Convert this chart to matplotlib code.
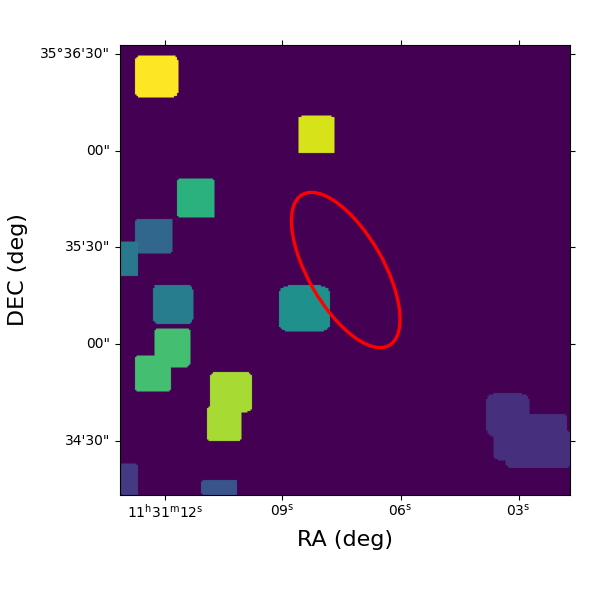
"""Segmentation map with an aperture ellipse, on RA/DEC style axes."""

import matplotlib
matplotlib.use("Agg")
import matplotlib.pyplot as plt
import numpy as np
from matplotlib.patches import Ellipse
from matplotlib.transforms import ScaledTranslation

GRID_SIZE = 300

# segments (pixel edges and label value, 0-100)
seg_x0 = [9.8, 118.6, 37.8, 10.3, 0, 22.3, 105.9, 10.3, 23.3, 60.2, 58.2, 0, 54.5, 244.3, 249.3, 257.3, 275]
seg_x1 = [39, 143.2, 63.4, 35, 11.5, 48.5, 140.1, 33.9, 46.7, 87.7, 80.7, 12.3, 77.9, 272.7, 298, 300, 300]
seg_y0 = [264.9, 227.8, 185.1, 160.9, 146, 114, 109.1, 69.1, 85.5, 55.5, 36, 0, 0, 39, 23.5, 18, 30]
seg_y1 = [293.3, 252.5, 210.7, 184.2, 168.7, 140.2, 139.5, 92.7, 110.9, 82, 59.3, 20.7, 10, 67.5, 54, 43.5, 40]
seg_corner = [5, 2, 2, 2, 0, 3, 6, 2, 2, 3, 2, 2, 1, 5, 3, 3, 0]
seg_label = [100, 94, 64, 33, 40, 42, 50, 70, 70, 87, 87, 17, 26, 14, 14, 14, 14]

# aperture
ell_center = (150.5, 150)
ell_width = 116
ell_height = 50
ell_angle = -60

# ticks
ra_ticks = [30, 108.3, 187, 265.7]
ra_labels = [
    r"11$^{\mathrm{h}}$31$^{\mathrm{m}}$12$^{\mathrm{s}}$",
    r"09$^{\mathrm{s}}$",
    r"06$^{\mathrm{s}}$",
    r"03$^{\mathrm{s}}$",
]
dec_ticks = [294.2, 229.6, 165.2, 100.7, 36]
dec_labels = ["35°36'30\"", "00\"", "35'30\"", "00\"", "34'30\""]


def build_segmap():
    """Paint the rounded segments onto an empty label grid."""
    segmap = np.zeros((GRID_SIZE, GRID_SIZE))
    yy, xx = np.mgrid[0:GRID_SIZE, 0:GRID_SIZE] + 0.5
    for x0, x1, y0, y1, r, label in zip(seg_x0, seg_x1, seg_y0, seg_y1, seg_corner, seg_label):
        dx = np.maximum(np.maximum(x0 + r - xx, xx - (x1 - r)), 0)
        dy = np.maximum(np.maximum(y0 + r - yy, yy - (y1 - r)), 0)
        inside = (xx >= x0) & (xx <= x1) & (yy >= y0) & (yy <= y1)
        segmap[inside & (dx ** 2 + dy ** 2 <= r ** 2 + 1e-9)] = label
    return segmap


fig = plt.figure(figsize=(6, 6), dpi=100)
ax = fig.add_axes([0.2, 0.175, 0.75, 0.75])

ax.imshow(build_segmap(), origin="lower", cmap="viridis", vmin=0, vmax=100,
          extent=(0, GRID_SIZE, 0, GRID_SIZE))
ax.add_patch(Ellipse(ell_center, ell_width, ell_height, angle=ell_angle,
                     fill=False, edgecolor="red", linewidth=2.4))

ax.set_xticks(ra_ticks)
ax.set_xticklabels(ra_labels)
ax.set_yticks(dec_ticks)
ax.set_yticklabels(dec_labels)
ax.tick_params(top=True, right=True, labelsize=10)
ax.tick_params(axis="x", pad=2)

# the DEC labels sit a little above their ticks
nudge = ScaledTranslation(0, 1.5 / 100, fig.dpi_scale_trans)
for tick_label in ax.get_yticklabels():
    tick_label.set_transform(tick_label.get_transform() + nudge)

ax.set_xlabel("RA (deg)", fontsize=16, labelpad=7)
ax.set_ylabel("DEC (deg)", fontsize=16, labelpad=9)

fig.savefig("out.png", dpi=100)
plt.close(fig)
